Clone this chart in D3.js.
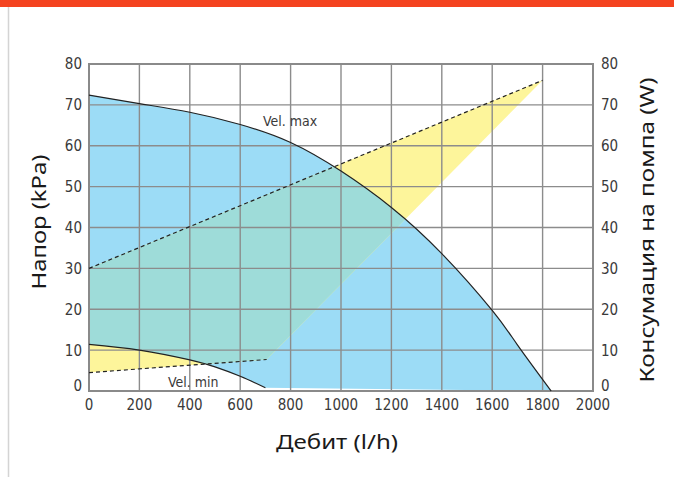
<!DOCTYPE html>
<html>
<head>
<meta charset="utf-8">
<script src="https://cdn.jsdelivr.net/npm/d3@7"></script>
<style>
  body { margin: 0; background: #fff; }
  svg { display: block; }
</style>
</head>
<body>
<svg id="chart" width="674" height="477"></svg>
<script>
// tick labels
const xTicks = [0, 200, 400, 600, 800, 1000, 1200, 1400, 1600, 1800, 2000];
const yTicks = [0, 10, 20, 30, 40, 50, 60, 70, 80];

// pressure curves [flow l/h, pressure kPa]
const velMax = [[0, 72.4], [200, 70.3], [400, 68.2], [600, 65.2], [800, 60.8], [1000, 53.8],
                [1200, 44.9], [1400, 33.6], [1600, 19.7], [1700, 11.3], [1834, 0]];
const velMin = [[0, 11.4], [200, 10.0], [400, 7.6], [500, 5.9], [600, 3.6], [700, 0.8]];

// power consumption lines [flow l/h, W]
const powerMax = [[0, 30], [1800, 76]];
const powerMin = [[0, 4.5], [705, 7.7]];

const svg = d3.select("#chart");

// page decoration
svg.append("rect").attr("x", 0).attr("y", 0).attr("width", 674).attr("height", 7).attr("fill", "#f4431f");
svg.append("line").attr("x1", 8.5).attr("x2", 8.5).attr("y1", 7).attr("y2", 477)
    .attr("stroke", "#d4d4d4").attr("stroke-width", 1.5);

const x = d3.scaleLinear().domain([0, 2000]).range([89, 593]);
const y = d3.scaleLinear().domain([0, 80]).range([391, 64]);

const curveLine = d3.line()
    .x(d => x(d[0]))
    .y(d => y(d[1]))
    .curve(d3.curveNatural);
const straight = d3.line()
    .x(d => x(d[0]))
    .y(d => y(d[1]));

// blue working area between the two pump curves
const minRev = velMin.slice().reverse();
const blueD = curveLine(velMax) + "L" + x(minRev[0][0]) + "," + y(minRev[0][1])
    + curveLine(minRev).replace(/^M/, "L") + "Z";

// yellow power band
const yellowPts = [powerMin[0], powerMax[0], powerMax[1], powerMin[1]];
const yellowD = straight(yellowPts) + "Z";

const defs = svg.append("defs");
defs.append("clipPath").attr("id", "blueClip").append("path").attr("d", blueD);

svg.append("path").attr("d", blueD).attr("fill", "#9cdcf6");
svg.append("path").attr("d", yellowD).attr("fill", "#fdf59b");
svg.append("path").attr("d", yellowD).attr("fill", "#9edcd9").attr("clip-path", "url(#blueClip)");

// grid
const grid = svg.append("g").attr("stroke", "#8c8c8c").attr("stroke-width", 1.4);
grid.selectAll("line.v")
    .data(xTicks)
    .join("line")
    .attr("class", "v")
    .attr("x1", d => x(d)).attr("x2", d => x(d))
    .attr("y1", y(80)).attr("y2", y(0));
grid.selectAll("line.h")
    .data(yTicks)
    .join("line")
    .attr("class", "h")
    .attr("x1", x(0)).attr("x2", x(2000))
    .attr("y1", d => y(d)).attr("y2", d => y(d));

// frame
svg.append("rect")
    .attr("x", x(0)).attr("y", y(80))
    .attr("width", x(2000) - x(0)).attr("height", y(0) - y(80))
    .attr("fill", "none").attr("stroke", "#8a8a8a").attr("stroke-width", 2);

// curves
svg.append("path").attr("d", curveLine(velMax)).attr("fill", "none").attr("stroke", "#222").attr("stroke-width", 1.2);
svg.append("path").attr("d", curveLine(velMin)).attr("fill", "none").attr("stroke", "#222").attr("stroke-width", 1.2);
svg.append("path").attr("d", straight(powerMax)).attr("fill", "none").attr("stroke", "#222")
    .attr("stroke-width", 1.2).attr("stroke-dasharray", "4,3");
svg.append("path").attr("d", straight(powerMin)).attr("fill", "none").attr("stroke", "#222")
    .attr("stroke-width", 1.2).attr("stroke-dasharray", "4,3");

// tick labels
const tickFont = "'DejaVu Sans Condensed', 'Liberation Sans Narrow', sans-serif";
const labelY = d => d === 0 ? y(d) - 5 : y(d);
svg.append("g").selectAll("text")
    .data(xTicks)
    .join("text")
    .attr("x", d => x(d)).attr("y", 410)
    .attr("text-anchor", "middle")
    .attr("font-family", tickFont).attr("font-size", 15).attr("fill", "#3a3a3a")
    .text(d => d);
svg.append("g").selectAll("text")
    .data(yTicks)
    .join("text")
    .attr("x", 82).attr("y", labelY).attr("dy", "0.36em")
    .attr("text-anchor", "end")
    .attr("font-family", tickFont).attr("font-size", 15).attr("fill", "#3a3a3a")
    .text(d => d);
svg.append("g").selectAll("text")
    .data(yTicks)
    .join("text")
    .attr("x", 601).attr("y", labelY).attr("dy", "0.36em")
    .attr("text-anchor", "start")
    .attr("font-family", tickFont).attr("font-size", 15).attr("fill", "#3a3a3a")
    .text(d => d);

// curve labels
svg.append("text").attr("x", 263).attr("y", 126)
    .attr("font-family", tickFont).attr("font-size", 14).attr("fill", "#3a3a3a").text("Vel. max");
svg.append("text").attr("x", 168).attr("y", 387)
    .attr("font-family", tickFont).attr("font-size", 14).attr("fill", "#3a3a3a").text("Vel. min");

// axis titles
const titleFont = "'Noto Sans', 'Open Sans', sans-serif";
svg.append("text")
    .attr("transform", "translate(337,449)")
    .attr("text-anchor", "middle")
    .attr("font-family", titleFont).attr("font-size", 20).attr("fill", "#1a1a1a")
    .attr("textLength", 122).attr("lengthAdjust", "spacingAndGlyphs")
    .text("Дебит (l/h)");
svg.append("text")
    .attr("transform", "translate(46,222) rotate(-90)")
    .attr("text-anchor", "middle")
    .attr("font-family", titleFont).attr("font-size", 20).attr("fill", "#1a1a1a")
    .attr("textLength", 135).attr("lengthAdjust", "spacingAndGlyphs")
    .text("Напор (kPa)");
svg.append("text")
    .attr("transform", "translate(654,230) rotate(-90)")
    .attr("text-anchor", "middle")
    .attr("font-family", titleFont).attr("font-size", 20).attr("fill", "#1a1a1a")
    .attr("textLength", 305).attr("lengthAdjust", "spacingAndGlyphs")
    .text("Консумация на помпа (W)");
</script>
</body>
</html>
